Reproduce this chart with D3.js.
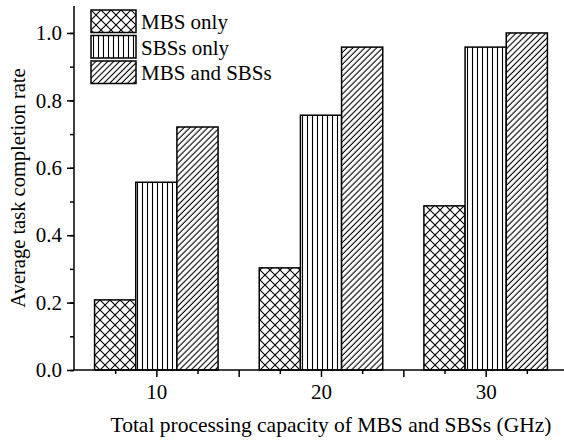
<!DOCTYPE html>
<html>
<head>
<meta charset="utf-8">
<script src="https://cdn.jsdelivr.net/npm/d3@7"></script>
<style>
  body { margin: 0; background: #fff; }
  svg, svg text { font-family: "Liberation Serif", "DejaVu Serif", serif !important; fill: #000; }
</style>
</head>
<body>
<div id="chart"></div>
<script>
// data
const capacities = [10, 20, 30];
const seriesNames = ["MBS only", "SBSs only", "MBS and SBSs"];
const mbsOnly = [0.208, 0.303, 0.487];
const sbsOnly = [0.557, 0.756, 0.958];
const mbsAndSbs = [0.721, 0.958, 1.0];
const yTicks = [0.0, 0.2, 0.4, 0.6, 0.8, 1.0];

const SERIF = "'Liberation Serif', 'DejaVu Serif', serif";

function init() {
  const W = 564, H = 442;
  const left = 74, right = 568, top = 6, bottom = 370;

  const svg = d3.select("#chart").append("svg")
      .attr("width", W)
      .attr("height", H)
      .style("font-family", SERIF);

  // hatch patterns
  const defs = svg.append("defs");
  const cross = defs.append("pattern").attr("id", "p0")
      .attr("patternUnits", "userSpaceOnUse").attr("width", 10).attr("height", 10);
  cross.append("rect").attr("width", 10).attr("height", 10).attr("fill", "#fff");
  cross.append("path").attr("d", "M0,0L10,10M10,0L0,10M-1,9L1,11M9,-1L11,1")
      .attr("stroke", "#000").attr("stroke-width", 1.1);

  const vert = defs.append("pattern").attr("id", "p1")
      .attr("patternUnits", "userSpaceOnUse").attr("width", 5).attr("height", 10);
  vert.append("rect").attr("width", 5).attr("height", 10).attr("fill", "#fff");
  vert.append("line").attr("x1", 2.5).attr("x2", 2.5).attr("y1", 0).attr("y2", 10)
      .attr("stroke", "#000").attr("stroke-width", 1.1);

  const diag = defs.append("pattern").attr("id", "p2")
      .attr("patternUnits", "userSpaceOnUse").attr("width", 4.2).attr("height", 10)
      .attr("patternTransform", "rotate(45)");
  diag.append("rect").attr("width", 4.2).attr("height", 10).attr("fill", "#fff");
  diag.append("line").attr("x1", 2).attr("x2", 2).attr("y1", 0).attr("y2", 10)
      .attr("stroke", "#000").attr("stroke-width", 1.1);

  const x = d3.scaleLinear().domain([5, 35]).range([left, right]);
  const y = d3.scaleLinear().domain([0, 1.08]).range([bottom, top]);

  const barW = x(2.5) - x(0);
  const allSeries = [mbsOnly, sbsOnly, mbsAndSbs];

  // bars
  allSeries.forEach((vals, si) => {
    svg.append("g").selectAll("rect")
      .data(vals)
      .enter().append("rect")
        .attr("x", (d, i) => x(capacities[i]) + (si - 1.5) * barW)
        .attr("y", d => y(d))
        .attr("width", barW)
        .attr("height", d => y(0) - y(d))
        .attr("fill", "url(#p" + si + ")")
        .attr("stroke", "#000")
        .attr("stroke-width", 1.5);
  });

  // y axis
  const yAxis = svg.append("g").attr("transform", "translate(" + left + ",0)");
  yAxis.call(d3.axisLeft(y).tickValues(d3.range(0, 1.05, 0.1)).tickSize(4).tickFormat(""));
  yAxis.selectAll(".tick line").attr("stroke-width", 1.5);
  const yMaj = svg.append("g").attr("transform", "translate(" + left + ",0)")
      .call(d3.axisLeft(y).tickValues(yTicks).tickSize(7).tickPadding(5)
        .tickFormat(d3.format(".1f")));
  yMaj.attr("font-family", SERIF).attr("font-size", 21);
  yMaj.select(".domain").remove();
  yMaj.selectAll(".tick line").attr("stroke-width", 1.5);
  yMaj.selectAll("text").style("font-family", SERIF).style("font-size", "21px");
  yAxis.select(".domain").attr("d", "M0," + top + "V" + bottom).attr("stroke-width", 1.5);

  // x axis
  const xAxis = svg.append("g").attr("transform", "translate(0," + bottom + ")");
  xAxis.call(d3.axisBottom(x).tickValues(d3.range(7.5, 35, 5)).tickSize(4).tickFormat(""));
  xAxis.selectAll(".tick line").attr("stroke-width", 1.5);
  xAxis.select(".domain").attr("d", "M" + left + ",0H" + right).attr("stroke-width", 1.5);
  const xMaj = svg.append("g").attr("transform", "translate(0," + bottom + ")")
      .call(d3.axisBottom(x).tickValues([10, 15, 20, 25, 30]).tickSize(7).tickPadding(7)
        .tickFormat(d => capacities.includes(d) ? d : ""));
  xMaj.attr("font-family", SERIF).attr("font-size", 21);
  xMaj.select(".domain").remove();
  xMaj.selectAll(".tick line").attr("stroke-width", 1.5);
  xMaj.selectAll("text").style("font-family", SERIF).style("font-size", "21px");

  // axis titles
  svg.append("text")
      .attr("x", 331)
      .attr("y", 432)
      .attr("text-anchor", "middle")
      .style("font-family", SERIF)
      .style("font-size", "21.5px")
      .text("Total processing capacity of MBS and SBSs (GHz)");
  svg.append("text")
      .attr("transform", "rotate(-90)")
      .attr("x", -188)
      .attr("y", 25)
      .attr("text-anchor", "middle")
      .style("font-family", SERIF)
      .style("font-size", "20.5px")
      .text("Average task completion rate");

  // legend
  const legend = svg.append("g").attr("transform", "translate(91,10)");
  seriesNames.forEach((name, i) => {
    legend.append("rect")
        .attr("x", 0).attr("y", i * 25.5)
        .attr("width", 45).attr("height", 22.5)
        .attr("fill", "url(#p" + i + ")")
        .attr("stroke", "#000").attr("stroke-width", 1.5);
    legend.append("text")
        .attr("x", 50).attr("y", i * 25.5 + 19)
        .style("font-family", SERIF)
        .style("font-size", "21px")
        .text(name);
  });
}

window.onload = init;
</script>
</body>
</html>
